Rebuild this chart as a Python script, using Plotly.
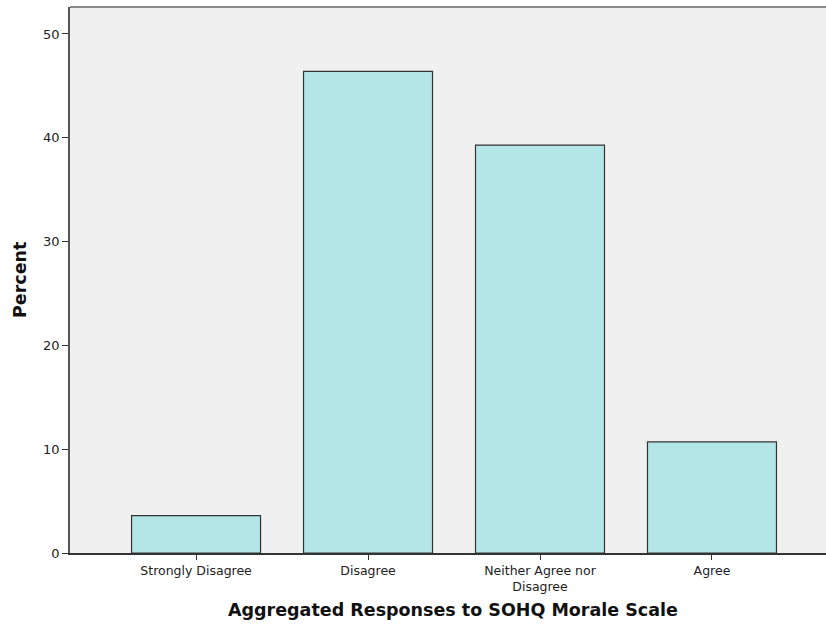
import plotly.graph_objects as go

categories = ["Strongly Disagree", "Disagree", "Neither Agree nor<br>Disagree", "Agree"]
percent = [3.6, 46.4, 39.3, 10.7]
y_ticks = [0, 10, 20, 30, 40, 50]

FONT = "DejaVu Sans, Verdana, sans-serif"

fig = go.Figure()
fig.add_trace(go.Bar(
    x=list(range(len(categories))), y=percent,
    width=0.75,
    marker=dict(color="#B4E6E7", line=dict(color="#333333", width=1.2)),
    hoverinfo="skip",
))

fig.update_layout(
    width=826, height=631,
    margin=dict(l=70, r=0, t=7, b=78),
    paper_bgcolor="white",
    plot_bgcolor="#F0F0F0",
    showlegend=False,
    font=dict(family=FONT, size=13, color="#222222"),
    xaxis=dict(
        range=[-0.733, 3.663],
        tickmode="array", tickvals=list(range(len(categories))), ticktext=categories,
        ticks="outside", ticklen=5, tickcolor="#333333",
        showline=True, linecolor="#333333", linewidth=1.5,
        showgrid=False, zeroline=False,
        tickfont=dict(family=FONT, size=12.5, color="#222222"),
    ),
    yaxis=dict(
        range=[0, 52.6],
        tickvals=y_ticks,
        ticks="outside", ticklen=6, tickcolor="#333333",
        showline=True, linecolor="#555555", linewidth=1.5,
        showgrid=False, zeroline=False,
        tickfont=dict(family=FONT, size=13, color="#222222"),
    ),
    shapes=[dict(type="line", xref="paper", yref="paper", x0=0, x1=1, y0=1, y1=1,
                 line=dict(color="#888888", width=2))],
    annotations=[
        dict(text="<b>Aggregated Responses to SOHQ Morale Scale</b>", xref="paper", yref="paper",
             x=(453 - 70) / 756, y=-57 / 546, xanchor="center", yanchor="middle",
             showarrow=False, font=dict(family=FONT, size=17.5, color="#111111")),
        dict(text="<b>Percent</b>", xref="paper", yref="paper",
             x=-50 / 756, y=(553 - 280) / 546, xanchor="center", yanchor="middle",
             textangle=-90, showarrow=False, font=dict(family=FONT, size=17.5, color="#111111")),
    ],
)

fig.write_html("out.html", config={"displayModeBar": False},
               post_script="document.body.style.margin='0';")
